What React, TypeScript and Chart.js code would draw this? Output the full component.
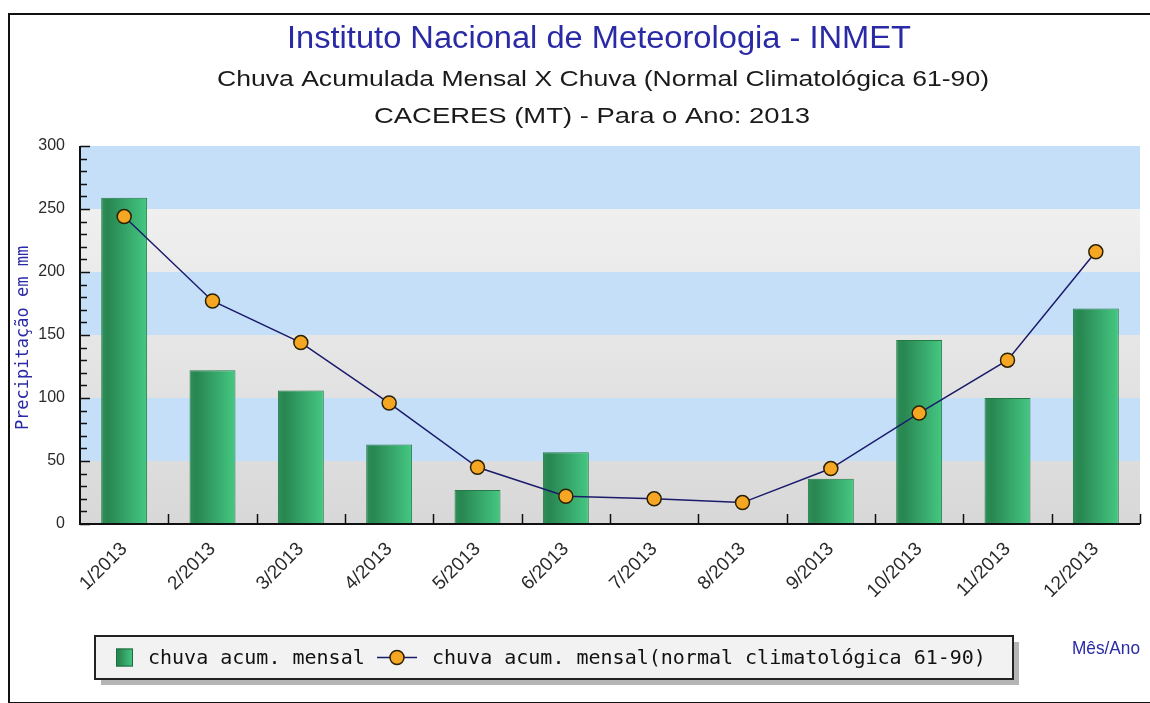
import React, { useEffect, useRef } from "react";
import { Chart, registerables } from "chart.js";

Chart.register(...registerables);

const categories = [
  "1/2013", "2/2013", "3/2013", "4/2013", "5/2013", "6/2013",
  "7/2013", "8/2013", "9/2013", "10/2013", "11/2013", "12/2013",
];
const chuvaMensal = [259, 122, 106, 63, 27, 57, 0, 0, 36, 146, 100, 171];
const normalClimatologica = [244, 177, 144, 96, 45, 22, 20, 17, 44, 88, 130, 216];
const yBandTicks = [0, 50, 100, 150, 200, 250, 300];
const titleText = "Instituto Nacional de Meteorologia - INMET";
const subtitleLines = [
  "Chuva Acumulada Mensal X Chuva (Normal Climatológica 61-90)",
  "CACERES (MT) - Para o Ano: 2013",
];
const legendLabels = [
  "chuva acum. mensal",
  "chuva acum. mensal(normal climatológica 61-90)",
];
const yAxisTitle = "Precipitação em mm";
const xAxisTitle = "Mês/Ano";

const BLUE_TEXT = "#2a2aa6";
const BAR_PCT = 0.52;

function fitText(ctx: CanvasRenderingContext2D, text: string, x: number, y: number, font: string, target: number, color: string, align: CanvasTextAlign = "center", baseline: CanvasTextBaseline = "alphabetic") {
  ctx.save();
  ctx.font = font;
  ctx.fillStyle = color;
  ctx.textAlign = align;
  ctx.textBaseline = baseline;
  const w = ctx.measureText(text).width;
  const sx = w > 0 ? target / w : 1;
  ctx.translate(x, y);
  ctx.scale(sx, 1);
  ctx.fillText(text, 0, 0);
  ctx.restore();
}

function barGradient(ctx: CanvasRenderingContext2D, x0: number, x1: number) {
  const g = ctx.createLinearGradient(x0, 0, x1, 0);
  g.addColorStop(0, "#2e8f57");
  g.addColorStop(0.15, "#288651");
  g.addColorStop(1, "#45c882");
  return g;
}

const decorPlugin = {
  id: "decor",
  beforeDraw(chart: any) {
    const { ctx, chartArea: a, scales } = chart;
    const y = scales.y;
    ctx.save();
    const gray = ctx.createLinearGradient(0, a.top, 0, a.bottom);
    gray.addColorStop(0, "#f4f4f4");
    gray.addColorStop(1, "#d8d8d8");
    for (let i = 0; i < yBandTicks.length - 1; i++) {
      const yb = y.getPixelForValue(yBandTicks[i]);
      const yt = y.getPixelForValue(yBandTicks[i + 1]);
      ctx.fillStyle = i % 2 === 0 ? gray : "#c5dff9";
      ctx.fillRect(a.left, yt, a.right - a.left, yb - yt);
    }
    ctx.restore();
  },
  beforeDatasetsDraw(chart: any) {
    const { ctx } = chart;
    chart.data.datasets.forEach((ds: any, di: number) => {
      if (ds.type !== "bar") return;
      const meta = chart.getDatasetMeta(di);
      meta.data.forEach((el: any) => {
        const half = el.width / 2;
        if (!isFinite(el.x) || !isFinite(half)) return;
        el.options = { ...el.options, backgroundColor: barGradient(ctx, el.x - half, el.x + half) };
      });
    });
  },
  afterDatasetsDraw(chart: any) {
    const { ctx, chartArea: a, scales } = chart;
    const x = scales.x;
    const y = scales.y;
    ctx.save();
    ctx.strokeStyle = "#111";
    ctx.lineWidth = 2;
    ctx.beginPath();
    ctx.moveTo(a.left, a.top);
    ctx.lineTo(a.left, a.bottom);
    ctx.lineTo(a.right, a.bottom);
    ctx.stroke();
    ctx.lineWidth = 1.5;
    ctx.beginPath();
    for (let v = y.min; v <= y.max; v += 10) {
      const py = Math.round(y.getPixelForValue(v)) + 0.5;
      const len = v % 50 === 0 ? 10 : 7;
      ctx.moveTo(a.left, py);
      ctx.lineTo(a.left + len, py);
    }
    ctx.stroke();
    ctx.beginPath();
    const n = categories.length;
    for (let i = 1; i <= n; i++) {
      const px = i === n ? a.right : (x.getPixelForValue(i - 1) + x.getPixelForValue(i)) / 2;
      const rx = Math.round(px) + 0.5;
      ctx.moveTo(rx, a.bottom);
      ctx.lineTo(rx, a.bottom - 10);
    }
    ctx.stroke();
    ctx.restore();
  },
  afterDraw(chart: any) {
    const { ctx } = chart;
    ctx.save();
    fitText(ctx, titleText, 599, 48, "31px 'Liberation Sans', Arial, sans-serif", 624, BLUE_TEXT);
    fitText(ctx, subtitleLines[0], 603, 86, "22px 'Liberation Sans', Arial, sans-serif", 772, "#1a1a1a");
    fitText(ctx, subtitleLines[1], 592, 123, "22px 'Liberation Sans', Arial, sans-serif", 436, "#1a1a1a");

    ctx.save();
    ctx.translate(24, 338);
    ctx.rotate(-Math.PI / 2);
    ctx.font = "17px 'DejaVu Sans Mono', monospace";
    ctx.fillStyle = BLUE_TEXT;
    ctx.textAlign = "center";
    ctx.textBaseline = "middle";
    ctx.fillText(yAxisTitle, 0, 0);
    ctx.restore();

    fitText(ctx, xAxisTitle, 1106, 654, "19px 'Liberation Sans', Arial, sans-serif", 68, BLUE_TEXT);

    const bx = 95, by = 636, bw = 918, bh = 43;
    ctx.fillStyle = "rgba(150,150,150,0.7)";
    ctx.fillRect(bx + 6, by + 6, bw, bh);
    ctx.fillStyle = "#f2f2f2";
    ctx.fillRect(bx, by, bw, bh);
    ctx.strokeStyle = "#222";
    ctx.lineWidth = 2;
    ctx.strokeRect(bx, by, bw, bh);
    const cy = by + bh / 2;
    ctx.fillStyle = barGradient(ctx, 116, 133);
    ctx.fillRect(116, cy - 9, 17, 18);
    ctx.strokeStyle = "#1f6a3e";
    ctx.lineWidth = 1;
    ctx.strokeRect(116.5, cy - 8.5, 16, 17);
    ctx.font = "20px 'DejaVu Sans Mono', monospace";
    ctx.fillStyle = "#111";
    ctx.textAlign = "left";
    ctx.textBaseline = "middle";
    ctx.fillText(legendLabels[0], 148, cy + 1);
    ctx.strokeStyle = "#1b1b6b";
    ctx.lineWidth = 1.5;
    ctx.beginPath();
    ctx.moveTo(377, cy);
    ctx.lineTo(417, cy);
    ctx.stroke();
    ctx.beginPath();
    ctx.arc(397, cy, 7, 0, Math.PI * 2);
    ctx.fillStyle = "#f5a623";
    ctx.fill();
    ctx.strokeStyle = "#2b2000";
    ctx.stroke();
    ctx.fillStyle = "#111";
    ctx.fillText(legendLabels[1], 432, cy + 1);
    ctx.restore();
  },
};

export default function App() {
  const ref = useRef<HTMLCanvasElement | null>(null);
  useEffect(() => {
    if (!ref.current) return;
    const chart = new Chart(ref.current, {
      type: "bar",
      data: {
        labels: categories,
        datasets: [
          {
            type: "line",
            label: legendLabels[1],
            data: normalClimatologica,
            borderColor: "#1b1b6b",
            borderWidth: 1.5,
            pointRadius: 7,
            pointBackgroundColor: "#f5a623",
            pointBorderColor: "#2b2000",
            pointBorderWidth: 1.5,
            tension: 0,
            order: 0,
          } as any,
          {
            type: "bar",
            label: legendLabels[0],
            data: chuvaMensal,
            backgroundColor: "#35a86a",
            borderColor: "#237a47",
            borderWidth: 1,
            borderSkipped: "bottom",
            barPercentage: BAR_PCT,
            categoryPercentage: 1,
            order: 1,
          } as any,
        ],
      },
      options: {
        animation: false,
        responsive: false,
        devicePixelRatio: 1,
        layout: { padding: { left: 30, right: 10, top: 146, bottom: 79 } },
        plugins: {
          legend: { display: false },
          title: { display: false },
          tooltip: { enabled: false },
        },
        scales: {
          x: {
            offset: true,
            grid: { display: false, drawTicks: false },
            border: { display: false },
            ticks: {
              minRotation: 45,
              maxRotation: 45,
              padding: 14,
              color: "#2a2a2a",
              font: { family: "'Liberation Sans', Arial, sans-serif", size: 19 },
            },
            afterFit: (s: any) => { s.height = 100; },
          },
          y: {
            min: 0,
            max: 300,
            grid: { display: false, drawTicks: false },
            border: { display: false },
            ticks: {
              stepSize: 50,
              padding: 15,
              color: "#2a2a2a",
              font: { family: "'Liberation Sans', Arial, sans-serif", size: 16 },
            },
            afterFit: (s: any) => { s.width = 50; },
          },
        },
      },
      plugins: [decorPlugin],
    });
    return () => chart.destroy();
  }, []);

  return (
    <div style={{ position: "absolute", left: 0, top: 0, width: 1150, height: 703, background: "#fff" }}>
      <div
        style={{
          position: "absolute",
          left: 8,
          top: 13,
          width: 1150,
          height: 687,
          borderLeft: "2px solid #111",
          borderTop: "2px solid #111",
          borderBottom: "2px solid #111",
        }}
      />
      <canvas ref={ref} width={1150} height={703} style={{ position: "absolute", left: 0, top: 0 }} />
    </div>
  );
}
